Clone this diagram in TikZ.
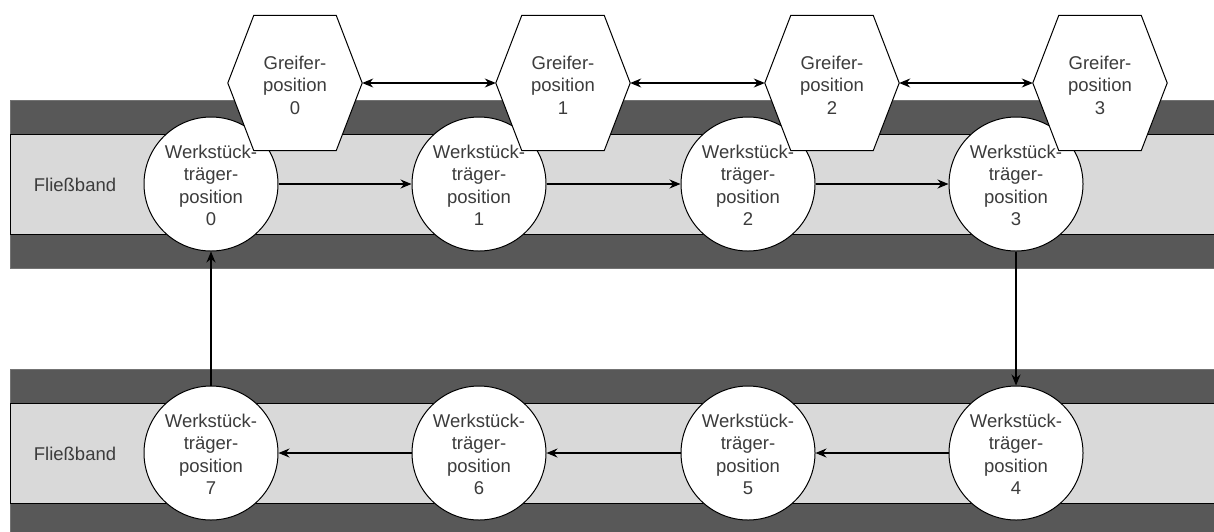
\documentclass[tikz,border=0pt]{standalone}
\usepackage{fontspec}
\setmainfont{Liberation Sans}
\usetikzlibrary{arrows.meta}
\definecolor{beltdark}{HTML}{585858}
\definecolor{beltlight}{HTML}{D9D9D9}
\definecolor{txt}{HTML}{3C3C3C}
\begin{document}
\begin{tikzpicture}[x=1pt,y=-1pt,
  every node/.style={font=\fontsize{18.5}{22.5}\selectfont, text=txt, align=center},
  carrier/.style={circle, draw=black, fill=white, line width=1pt, minimum size=134pt, inner sep=0pt},
  gripper/.style={rectangle, minimum width=134pt, minimum height=135pt, inner sep=0pt},
  hexline/.style={draw=black, fill=white, line width=1pt},
  flow/.style={line width=1.1pt, -{Stealth[length=11pt,width=9pt]}},
  twoway/.style={line width=1.1pt, {Stealth[length=11pt,width=9pt]}-{Stealth[length=11pt,width=9pt]}},
  beltouter/.style={fill=beltdark, draw=black!55, line width=0.8pt},
  beltinner/.style={fill=beltlight, draw=black, line width=1pt}]
\useasboundingbox (0,0) rectangle (1214,531);

% conveyor belts
\path[beltouter] (10,100) rectangle (1220,268);
\path[beltinner] (10,134) rectangle (1220,234);
\path[beltouter] (10,369) rectangle (1220,540);
\path[beltinner] (10,403) rectangle (1220,503);
\node (band1) at (75,185) {Fließband};
\node (band2) at (75,454) {Fließband};

% workpiece carrier positions
\node[carrier] (w0) at (211,184) {};
\node[carrier] (w1) at (479,184) {};
\node[carrier] (w2) at (748,184) {};
\node[carrier] (w3) at (1016,184) {};
\node[carrier] (w4) at (1016,453) {};
\node[carrier] (w5) at (748,453) {};
\node[carrier] (w6) at (479,453) {};
\node[carrier] (w7) at (211,453) {};

% gripper positions (hexagons)
\foreach \i/\x in {0/295,1/563,2/832,3/1100}{
  \node[gripper] (g\i) at (\x,83) {};
  \path[hexline] (g\i.west) -- ([xshift=26pt]g\i.north west) -- ([xshift=-26pt]g\i.north east)
     -- (g\i.east) -- ([xshift=-26pt]g\i.south east) -- ([xshift=26pt]g\i.south west) -- cycle;
  \node at ([yshift=-2pt]g\i.center) {Greifer-\\position\\\i};
}

% carrier labels
\foreach \i in {0,...,7}{
  \node at ([yshift=-1.5pt]w\i.center) {Werkstück-\\träger-\\position\\\i};
}

% transport between carrier positions
\draw[flow] (w0) -- (w1);
\draw[flow] (w1) -- (w2);
\draw[flow] (w2) -- (w3);
\draw[flow] (w3) -- (w4);
\draw[flow] (w4) -- (w5);
\draw[flow] (w5) -- (w6);
\draw[flow] (w6) -- (w7);
\draw[flow] (w7) -- (w0);

% gripper moves
\draw[twoway] (g0.east) -- (g1.west);
\draw[twoway] (g1.east) -- (g2.west);
\draw[twoway] (g2.east) -- (g3.west);
\end{tikzpicture}
\end{document}
